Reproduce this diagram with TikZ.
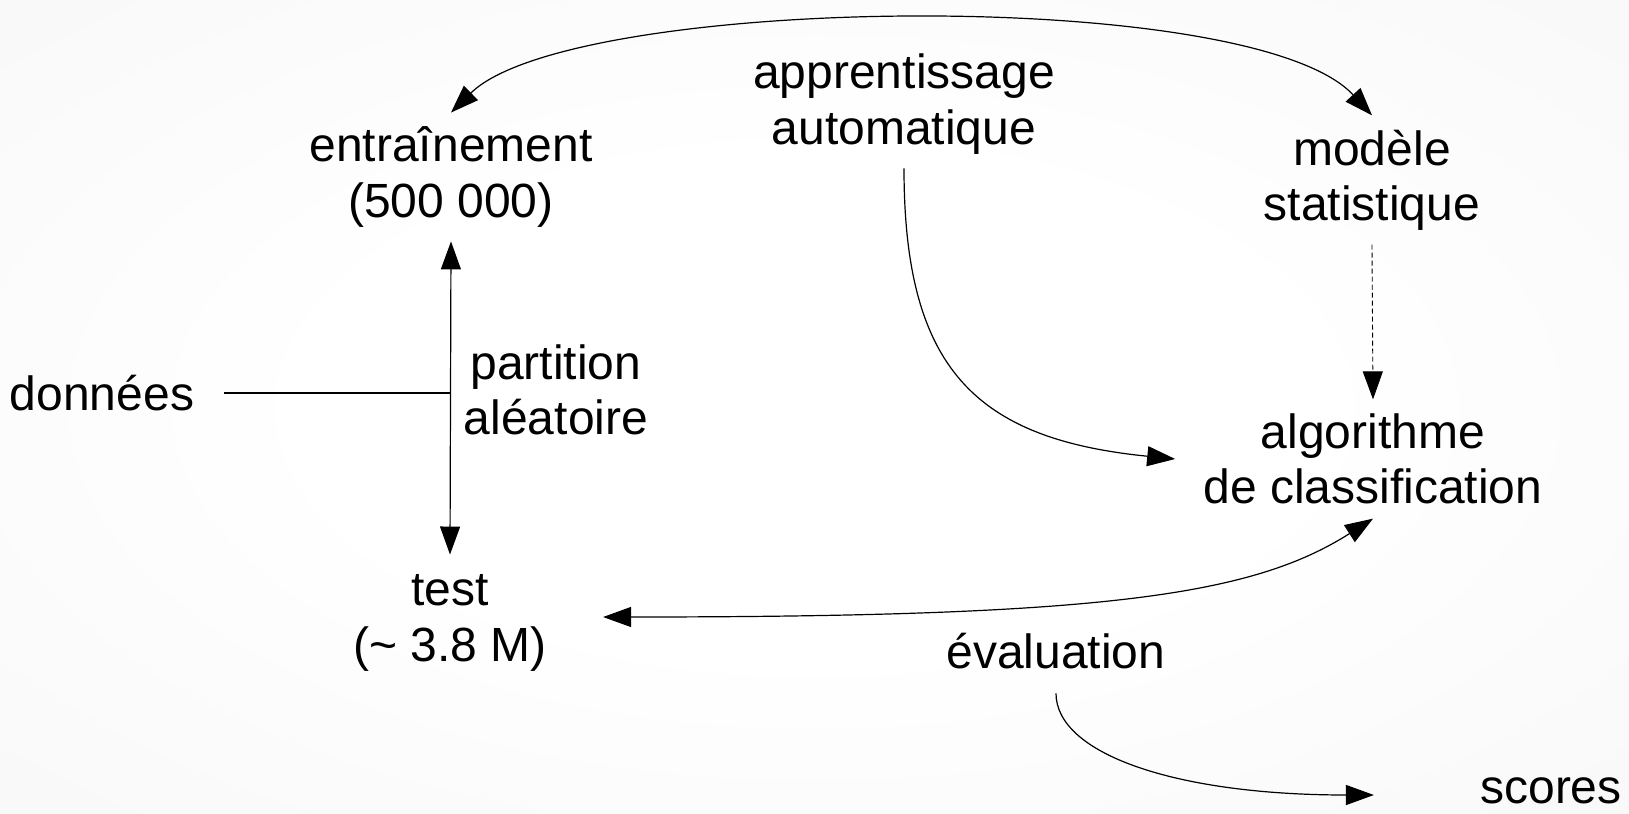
\documentclass[tikz,border=0pt]{standalone}
\usepackage{fontspec}
\setmainfont{Liberation Sans}
\usetikzlibrary{arrows.meta, positioning}
\definecolor{bgedge}{HTML}{EDEDED}
\definecolor{inkline}{HTML}{000000}
\pgfdeclareradialshading{softbg}{\pgfpoint{0bp}{0bp}}{%
  color(0bp)=(white); color(15bp)=(white); color(72bp)=(bgedge)}
\tikzset{
  lbl/.style    = {align=center, inner sep=7pt, text=inkline,
                   font=\fontsize{24}{27.6}\selectfont},
  flow/.style   = {-{Triangle[length=14pt, width=10pt]}, line width=0.6pt, draw=inkline},
  twoway/.style = {{Triangle[length=14pt, width=10pt]}-{Triangle[length=14pt, width=10pt]},
                   line width=0.6pt, draw=inkline},
  hint/.style   = {-{Triangle[length=14pt, width=10pt]}, line width=0.45pt, draw=inkline,
                   dash pattern=on 2.5pt off 1.5pt},
  plain/.style  = {line width=0.6pt, draw=inkline},
}

\begin{document}
\begin{tikzpicture}[x=0.5pt, y=-0.5pt]
	\useasboundingbox (0,0) rectangle (1629,814);
	\shade[shading=softbg] (0,0) rectangle (1629,814);
	% nodes
	\node[lbl] (learn)  at (904,104) {apprentissage\\automatique};
	\node[lbl] (train)  at (451,177) {entraînement\\(500 000)};
	\node[lbl] (model)  at (1372,180) {modèle\\statistique};
	\node[lbl] (data)   at (102,393) {données};
	\node[lbl] (split)  at (556,390) {partition\\aléatoire};
	\node[lbl] (algo)   at (1373,459) {algorithme\\de classification};
	\node[lbl] (test)   at (450,623) {test\\(\char`\~{} 3.8 M)};
	\node[lbl] (eval)   at (1056,651) {évaluation};
	\node[lbl] (scores) at (1551,791) {scores};
	% connectors
	\draw[twoway] (train.north) .. controls +(120,-118) and +(-120,-130) .. (model.north);
	\draw[twoway] (train.south) -- ([yshift=3pt]test.north);
	\draw[plain] ([xshift=8pt]data.east) -- (data.east -| train.south);
	\draw[flow] (learn.south) .. controls +(0,200) and +(-200,-20) .. ([xshift=-7pt]algo.west);
	\draw[hint] (model.south) -- (algo.north);
	\draw[twoway] ([xshift=21pt,yshift=3pt]test.east) .. controls +(500,0) and +(-121,77) .. (algo.south);
	\draw[flow] ([yshift=-5pt]eval.south) .. controls +(0,60) and +(-200,0) .. ([xshift=-46pt,yshift=-2pt]scores.west);
\end{tikzpicture}
\end{document}
